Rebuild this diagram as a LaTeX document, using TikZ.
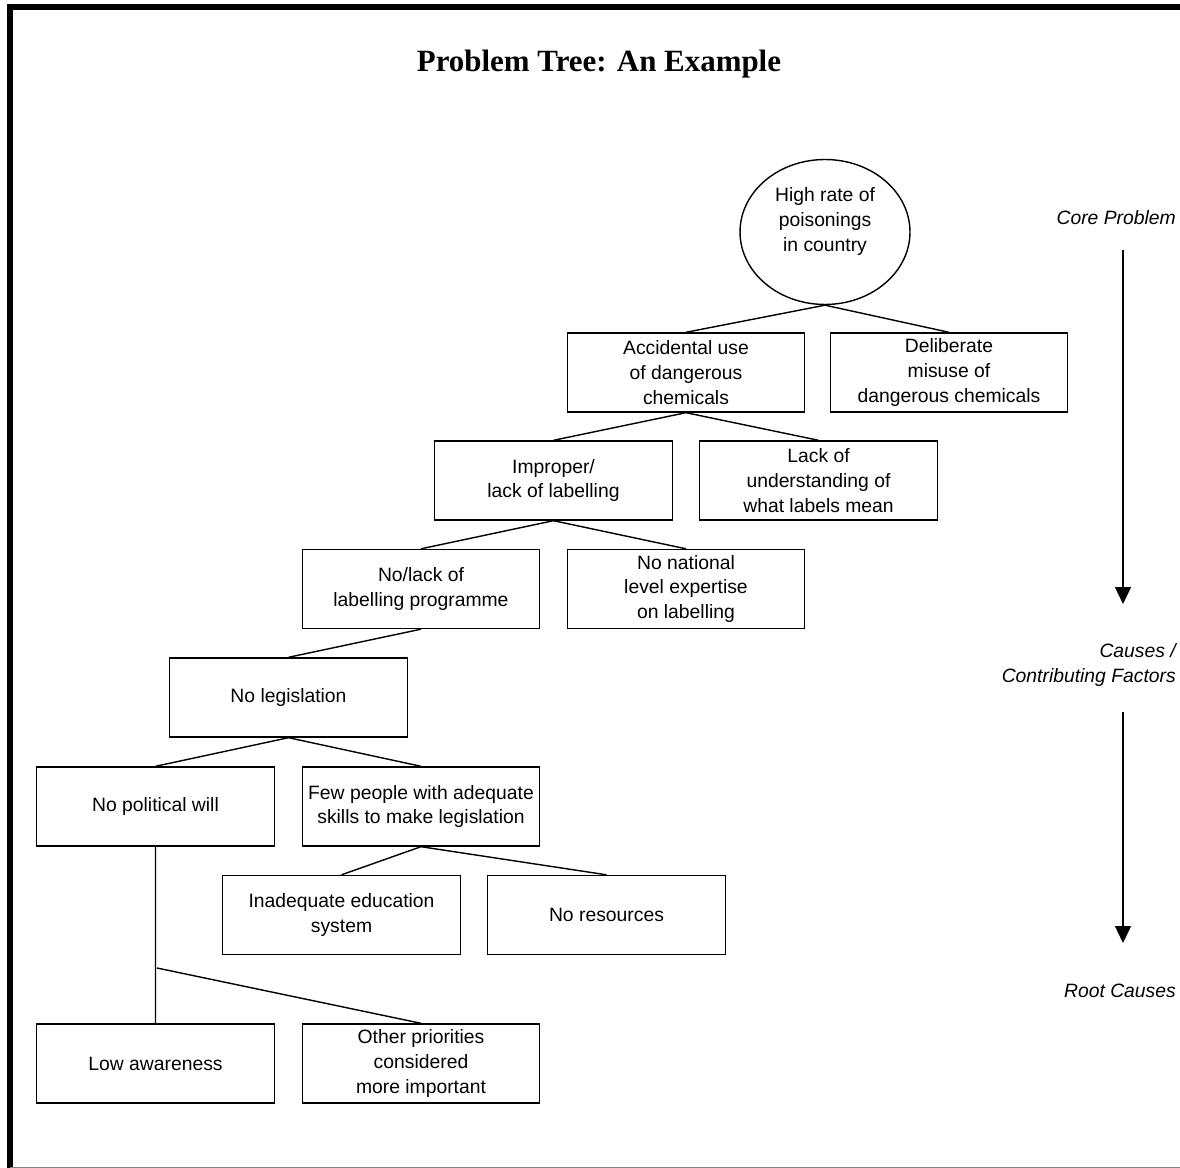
\documentclass[tikz,border=0pt]{standalone}
\usepackage{fontspec}
\setmainfont{Liberation Sans}
\newfontfamily\titlefont{Liberation Serif}
\usetikzlibrary{arrows.meta,shapes.geometric}
\tikzset{
  box/.style={draw,line width=0.8pt,minimum width=4.75cm,minimum height=1.58cm,
    inner sep=0pt,align=center,font=\fontsize{11}{14}\selectfont},
  core/.style={draw,ellipse,line width=0.8pt,minimum width=3.4cm,minimum height=2.9cm,
    inner sep=0pt,align=center,text depth=0.5cm,font=\fontsize{11}{14}\selectfont},
  side/.style={anchor=east,align=right,font=\fontsize{11}{14}\selectfont\itshape},
  link/.style={line width=0.8pt}
}
\begin{document}
\begin{tikzpicture}[x=0.02cm,y=-0.02cm,>={Triangle[width=0.32cm,length=0.34cm]}]
\useasboundingbox (0,0) rectangle (1180,1168);
\draw[line width=0.12cm](10,1168)--(10,7)--(1180,7);
\draw[gray,line width=0.02cm](10,1167)--(1180,1167);
\node[font=\titlefont\bfseries\fontsize{17.6}{20}\selectfont] (title) at (599,64) {Problem Tree: An Example};
\node[core] (rate) at (825,232) {High rate of\\poisonings\\in country};
\node[box] (acc) at (686,372.5) {Accidental use\\of dangerous\\chemicals};
\node[box] (delib) at (949,372.5) {Deliberate\\misuse of\\dangerous chemicals};
\node[box] (improper) at (553.5,480.5) {Improper/\\lack of labelling};
\node[box] (understand) at (818.5,480.5) {Lack of\\understanding of\\what labels mean};
\node[box] (prog) at (421,589) {No/lack of\\labelling programme};
\node[box] (expert) at (686,589) {No national\\level expertise\\on labelling};
\node[box] (legis) at (288.5,697.5) {No legislation};
\node[box] (will) at (155.5,806.5) {No political will};
\node[box] (skills) at (421,806.5) {Few people with adequate\\skills to make legislation};
\node[box] (edu) at (341.5,915) {Inadequate education\\system};
\node[box] (res) at (606.5,915) {No resources};
\node[box] (aware) at (155.5,1063.5) {Low awareness};
\node[box] (prio) at (421,1063.5) {Other priorities\\considered\\more important};
\coordinate (fork) at (157,968);
\draw[link](rate.south)--(acc.north) (rate.south)--(delib.north);
\draw[link](acc.south)--(improper.north) (acc.south)--(understand.north);
\draw[link](improper.south)--(prog.north) (improper.south)--(expert.north);
\draw[link](prog.south)--(legis.north);
\draw[link](legis.south)--(will.north) (legis.south)--(skills.north);
\draw[link](skills.south)--(edu.north) (skills.south)--(res.north);
\draw[link](will.south)--(aware.north) (fork)--(prio.north);
\node[side] (corelbl) at (1182,218) {Core Problem};
\node[side] (causelbl) at (1182,665) {Causes /\\Contributing Factors};
\node[side] (rootlbl) at (1182,991) {Root Causes};
\coordinate (up1) at (1123,250);
\coordinate (dn1) at (1123,604);
\coordinate (up2) at (1123,712);
\coordinate (dn2) at (1123,943);
\draw[->,line width=0.8pt](up1)--(dn1);
\draw[->,line width=0.8pt](up2)--(dn2);
\end{tikzpicture}
\end{document}
